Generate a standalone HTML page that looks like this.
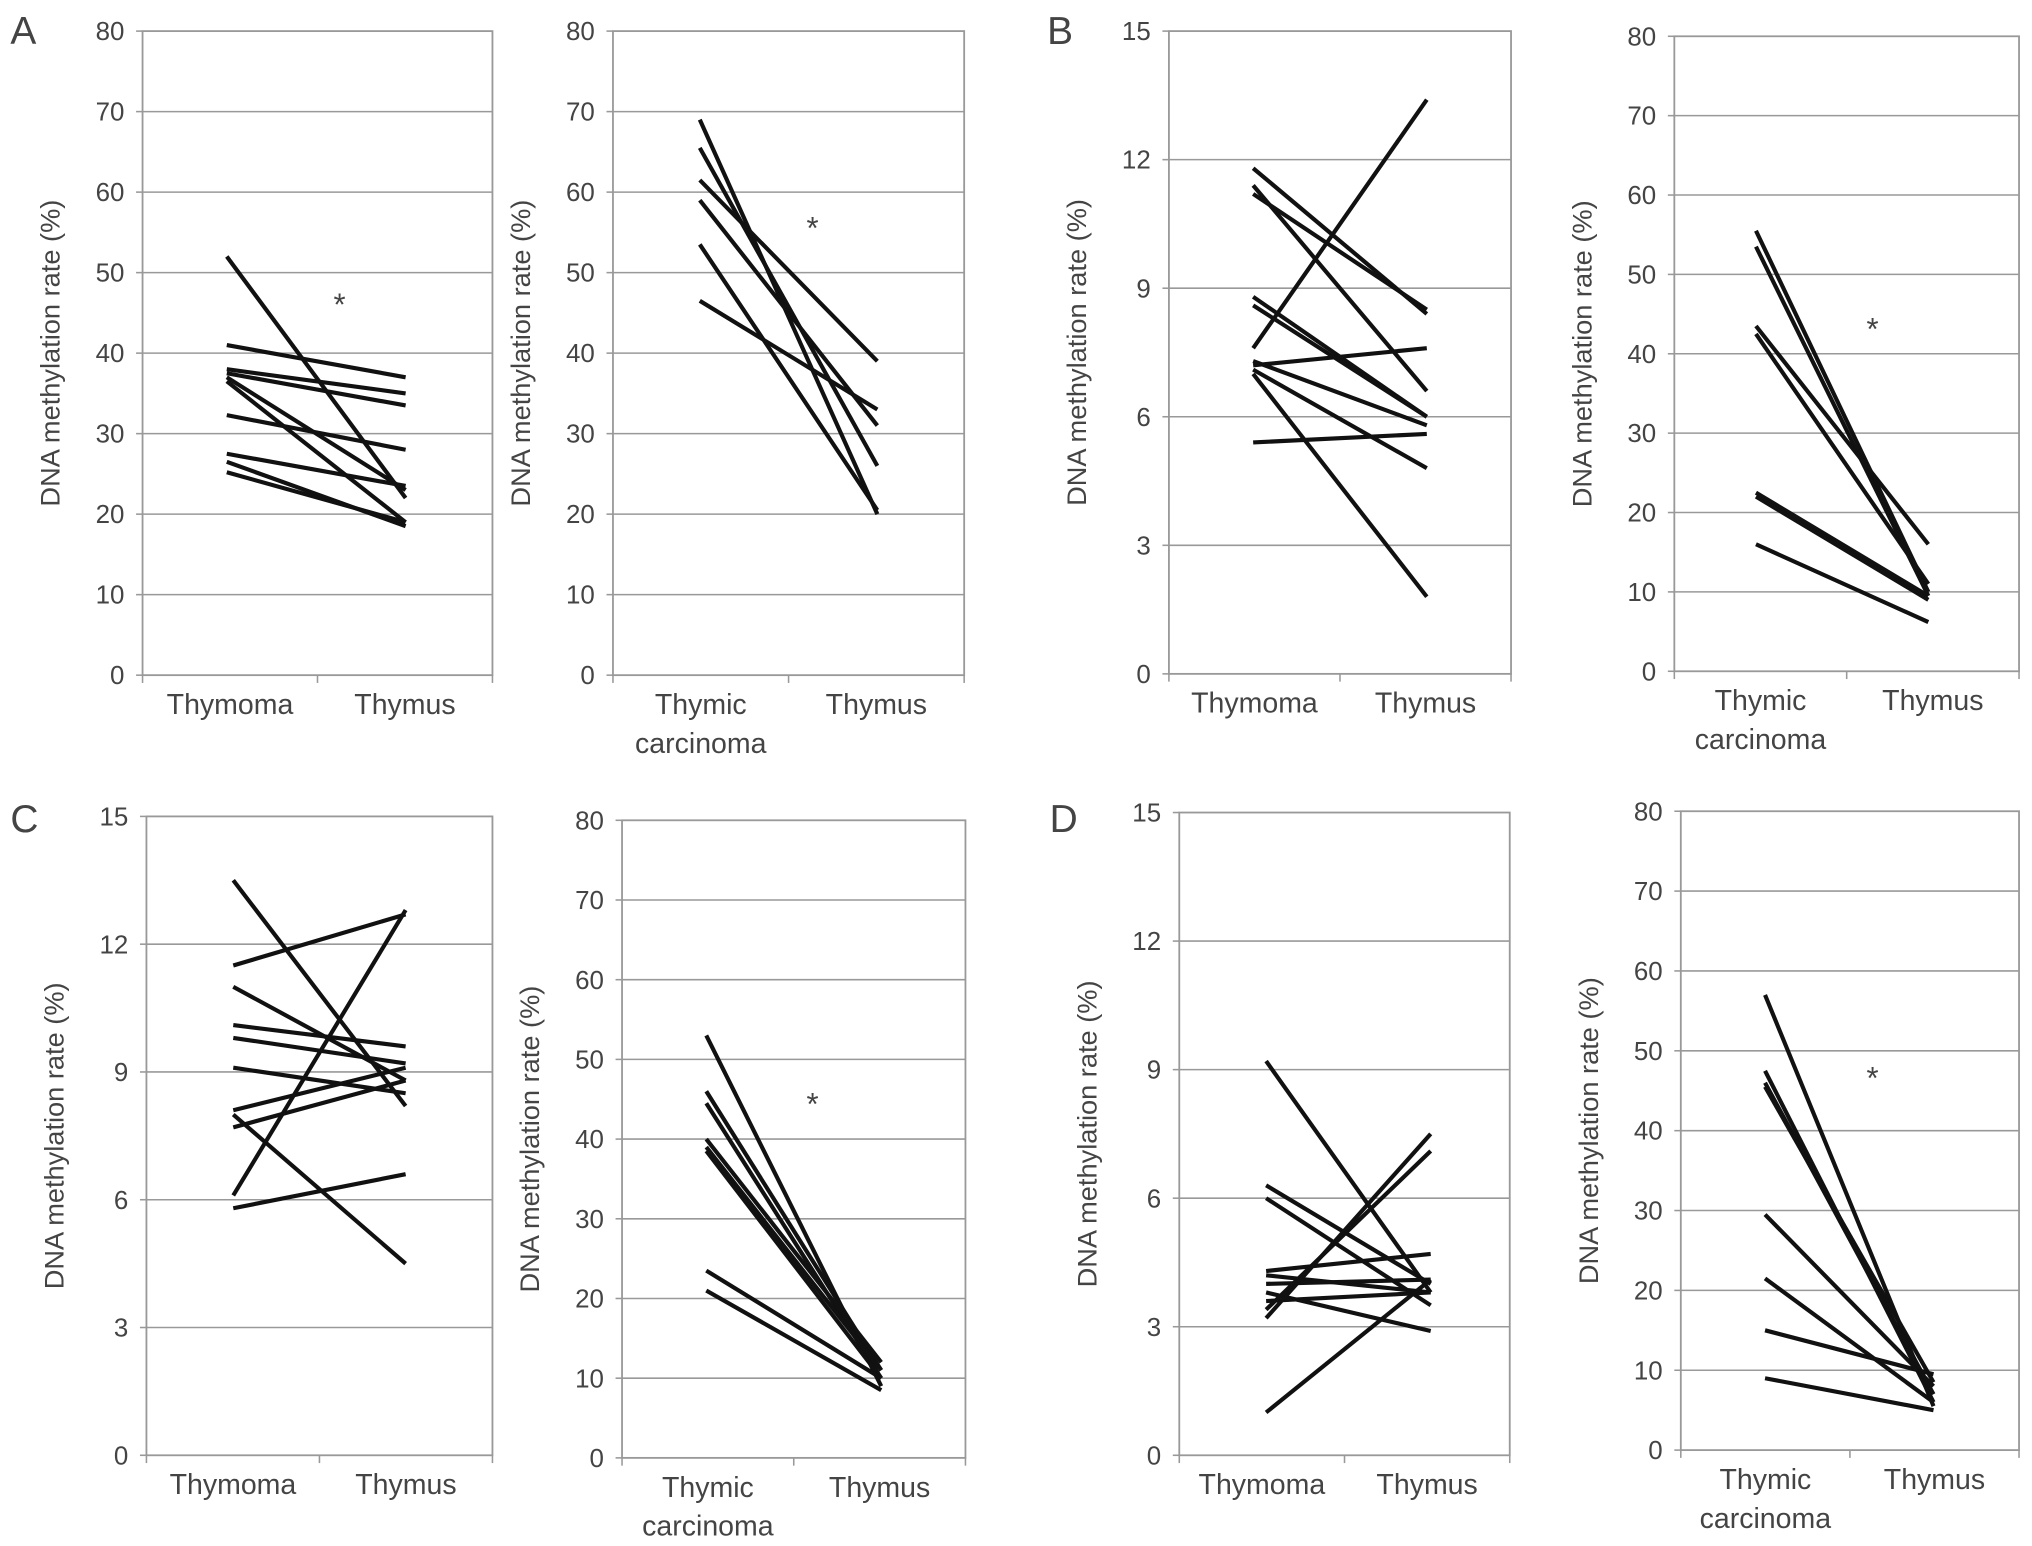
<!DOCTYPE html>
<html><head><meta charset="utf-8"><style>
html,body{margin:0;padding:0;background:#fff}
svg{display:block}
text{font-family:"Liberation Sans",sans-serif;fill:#444}
</style></head><body>
<svg id="fig" width="2032" height="1546" viewBox="0 0 1568 1193" preserveAspectRatio="none" xmlns="http://www.w3.org/2000/svg"></svg>
<script>
// data arrays: [start, end] pairs per panel
const a1Data=[[52,22],[41,37],[38,35],[37.5,33.5],[37,23],[36.5,19],[32.3,28],[27.5,23.5],[26.5,18.5],[25.2,19]];
const a2Data=[[69,20],[65.5,26],[61.5,39],[59,31],[53.5,20.5],[46.5,33]];
const b1Data=[[11.8,8.4],[11.4,6.6],[11.2,8.5],[8.8,6],[7.6,13.4],[7.3,5.8],[7.2,7.6],[7.1,4.8],[7.0,1.8],[5.4,5.6],[8.6,6.0]];
const b2Data=[[55.5,10],[53.5,9.5],[43.5,16],[42.5,11],[22.5,9.5],[22,9],[16,6.2]];
const c1Data=[[13.5,8.2],[11.5,12.7],[11,8.8],[10.1,9.6],[9.8,9.2],[9.1,8.5],[8.1,9.1],[7.7,8.8],[8,4.5],[6.1,12.8],[5.8,6.6]];
const c2Data=[[53,9],[46,11],[44.5,10],[40,12],[39,11],[38.5,10],[23.5,10],[21,8.5]];
const d1Data=[[9.2,3.8],[6.3,4.0],[6.0,3.5],[4.3,4.7],[4.2,3.8],[4.0,4.1],[3.8,2.9],[3.6,3.8],[3.4,7.1],[3.2,7.5],[1.0,4.1]];
const d2Data=[[57,5.5],[47.5,6],[46,7],[45.5,8.5],[29.5,8],[21.5,6],[15,9.5],[9,5]];
const ticks80=[0,10,20,30,40,50,60,70,80];
const ticks15=[0,3,6,9,12,15];
const catThymoma=["Thymoma"];
const catCarcinoma=["Thymic","carcinoma"];

const svg=document.getElementById('fig');
const NS='http://www.w3.org/2000/svg';
function mk(tag,attrs,parent){const e=document.createElementNS(NS,tag);for(const k in attrs)e.setAttribute(k,attrs[k]);(parent||svg).appendChild(e);return e;}

const panels=[
 {id:'a1',data:a1Data,ticks:ticks80,max:80,x0:110,x1:380,y0:24,y1:521,c1:175,c2:313,lab:catThymoma,star:[262,243]},
 {id:'a2',data:a2Data,ticks:ticks80,max:80,x0:473,x1:744,y0:24,y1:521,c1:540,c2:677,lab:catCarcinoma,star:[627,184]},
 {id:'b1',data:b1Data,ticks:ticks15,max:15,x0:902,x1:1166,y0:24,y1:520,c1:967,c2:1101,lab:catThymoma,star:null},
 {id:'b2',data:b2Data,ticks:ticks80,max:80,x0:1292,x1:1558,y0:28,y1:518,c1:1355,c2:1488,lab:catCarcinoma,star:[1445,262]},
 {id:'c1',data:c1Data,ticks:ticks15,max:15,x0:113,x1:380,y0:630,y1:1123,c1:180,c2:313,lab:catThymoma,star:null},
 {id:'c2',data:c2Data,ticks:ticks80,max:80,x0:480,x1:745,y0:633,y1:1125,c1:545,c2:680,lab:catCarcinoma,star:[627,860]},
 {id:'d1',data:d1Data,ticks:ticks15,max:15,x0:910,x1:1165,y0:627,y1:1123,c1:977,c2:1104,lab:catThymoma,star:null},
 {id:'d2',data:d2Data,ticks:ticks80,max:80,x0:1297,x1:1558,y0:626,y1:1119,c1:1362,c2:1492,lab:catCarcinoma,star:[1445,840]}
];

panels.forEach(p=>{
 const g=mk('g',{});
 
 
 const y=v=>p.y1-(v/p.max)*(p.y1-p.y0);
 p.ticks.forEach(t=>{
  if(t>0&&t<p.max){const l=mk('line',{x1:p.x0,x2:p.x1,y1:y(t),y2:y(t),stroke:'#999','stroke-width':1.2},g);
   
   }
  const tx=mk('text',{x:p.x0-14,y:y(t)+7,'text-anchor':'end','font-size':20},g);tx.textContent=t;
  
  
  mk('line',{x1:p.x0-5,x2:p.x0,y1:y(t),y2:y(t),stroke:'#999','stroke-width':1.2},g);
 });
 const box=mk('rect',{x:p.x0,y:p.y0,width:p.x1-p.x0,height:p.y1-p.y0,fill:'none',stroke:'#999','stroke-width':1.4},g);
 
 
 const mid=(p.x0+p.x1)/2;
 [p.x0,mid,p.x1].forEach(x=>mk('line',{x1:x,x2:x,y1:p.y1,y2:p.y1+6,stroke:'#999','stroke-width':1.2},g));
 const yt=mk('text',{x:0,y:0,'text-anchor':'middle','font-size':21,transform:`translate(${p.x0-64},${(p.y0+p.y1)/2}) rotate(-90)`},g);
 yt.textContent='DNA methylation rate (%)';
 
 
 p.lab.forEach((s,i)=>{const t=mk('text',{x:(p.x0+mid)/2,y:p.y1+30+i*30,'text-anchor':'middle','font-size':22},g);t.textContent=s;
  
  });
 const t2=mk('text',{x:(mid+p.x1)/2,y:p.y1+30,'text-anchor':'middle','font-size':22},g);t2.textContent='Thymus';
 
 
 p.data.forEach(d=>{const l=mk('line',{x1:p.c1,x2:p.c2,y1:y(d[0]),y2:y(d[1]),stroke:'#111','stroke-width':3.2},g);
  
  });
 if(p.star){const s=mk('text',{x:p.star[0],y:p.star[1],'text-anchor':'middle','font-size':24},g);s.textContent='*';
  
  }
});
[['A',8,34],['B',808,34],['C',8,642],['D',810,642]].forEach(l=>{
 const t=mk('text',{x:l[1],y:l[2],'font-size':30});t.textContent=l[0];
 
 
});
</script>
</body></html>
